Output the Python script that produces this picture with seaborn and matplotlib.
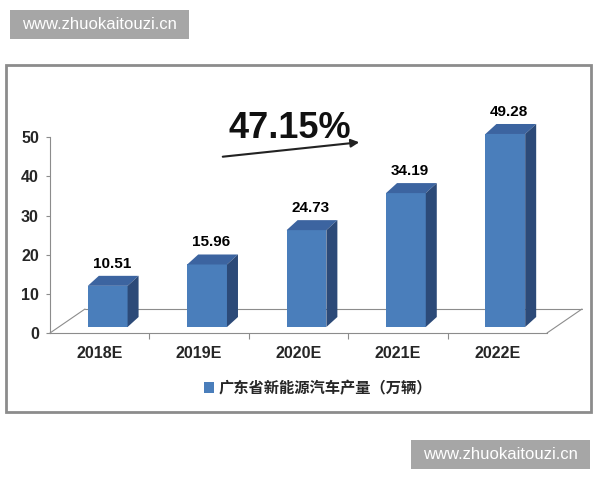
import numpy as np
import seaborn as sns
import matplotlib.pyplot as plt
from matplotlib.patches import Polygon, Rectangle
from matplotlib.transforms import ScaledTranslation

# data
years = ["2018E", "2019E", "2020E", "2021E", "2022E"]
output = [10.51, 15.96, 24.73, 34.19, 49.28]
yticks = [0, 10, 20, 30, 40, 50]
series_name = "广东省新能源汽车产量（万辆）"
cagr = "47.15%"
site = "www.zhuokaitouzi.cn"

front_col = "#4a7ebb"
top_col = "#3c64a0"
side_col = "#2c4a78"
line_col = "#8c8c8c"

sns.set_theme(style="white")
plt.rcParams['font.family'] = ['Liberation Sans', 'Noto Sans CJK SC', 'DejaVu Sans']
narrow = ['Liberation Sans Narrow', 'Liberation Sans']

W, H = 600, 480
fig = plt.figure(figsize=(6, 4.8), dpi=100)
fig.patch.set_facecolor("white")


def box(x0, y0, x1, y1):
    # pixel box, origin top-left -> figure fraction
    return [x0 / W, 1 - y1 / H, (x1 - x0) / W, (y1 - y0) / H]


# outer frame
fr = box(6, 65, 591, 412)
fig.add_artist(Rectangle(fr[:2], fr[2], fr[3], transform=fig.transFigure, fill=False, ec=line_col, lw=2))

ax = fig.add_axes(box(50, 98, 547, 333))
ax.patch.set_alpha(0)
sns.barplot(x=years, y=output, color=front_col, saturation=1, width=0.4, ax=ax)
ax.set_xlim(-0.5, 4.5)
ax.set_ylim(0, 60)

# pixel -> data scale
o = ax.transData.transform((0, 0))
sx = ax.transData.transform((1, 0))[0] - o[0]
sy = ax.transData.transform((0, 1))[1] - o[1]

# bars sit a little back on the floor
shift = ax.transData + ScaledTranslation(0.08, 0.06, fig.dpi_scale_trans)
ddx, ddy = 11 / sx, 10 / sy

for p, v in zip(ax.patches, output):
    x0, w, h = p.get_x(), p.get_width(), p.get_height()
    p.set_transform(shift)
    p.set_edgecolor("none")
    p.set_zorder(3)
    p.set_clip_on(False)
    top = Polygon([(x0, h), (x0 + w, h), (x0 + w + ddx, h + ddy), (x0 + ddx, h + ddy)],
                  closed=True, fc=top_col, ec="none", transform=shift, zorder=3, clip_on=False)
    side = Polygon([(x0 + w, 0), (x0 + w, h), (x0 + w + ddx, h + ddy), (x0 + w + ddx, ddy)],
                   closed=True, fc=side_col, ec="none", transform=shift, zorder=3, clip_on=False)
    ax.add_patch(top)
    ax.add_patch(side)
    ax.text(x0 + w / 2 + 4 / sx, h + ddy + 5 / sy, f"{v:.2f}", transform=shift,
            ha="center", va="bottom", fontsize=11, fontweight="bold", color="black", family=narrow)

# floor
back = ax.transData + ScaledTranslation(0.35, 0.24, fig.dpi_scale_trans)
ax.plot([-0.5, 4.5], [0, 0], color=line_col, lw=0.8, transform=back, clip_on=False, zorder=1)
for xe in (-0.5, 4.5):
    ax.plot([xe, xe + 35 / sx], [0, 24 / sy], color=line_col, lw=0.8, clip_on=False, zorder=1)

# axes
for s in ["top", "right"]:
    ax.spines[s].set_visible(False)
ax.spines["left"].set_bounds(0, 50)
ax.spines["left"].set_color(line_col)
ax.spines["left"].set_linewidth(0.8)
ax.spines["bottom"].set_color(line_col)
ax.spines["bottom"].set_linewidth(0.8)
ax.set_yticks(yticks)
ax.set_yticklabels([str(t) for t in yticks], fontsize=11.5, fontweight="bold", family=narrow)
ax.tick_params(axis="y", left=True, length=3, width=0.8, color=line_col, pad=5)
ax.set_xticks(range(len(years)))
ax.set_xticklabels(years, fontsize=11.5, fontweight="bold", family=narrow)
ax.set_xticks([i + 0.5 for i in range(len(years) - 1)], minor=True)
ax.tick_params(axis="x", which="major", length=0, pad=9)
ax.tick_params(axis="x", which="minor", bottom=True, length=4, width=0.8, color=line_col)
ax.set_xlabel("")
ax.set_ylabel("")

# growth annotation
fig.text(290 / W, 1 - 128 / H, cagr, ha="center", va="center", fontsize=26, fontweight="bold", color="#111111")
ax.annotate("", xy=(362 / W, 1 - 142 / H), xytext=(220 / W, 1 - 157 / H),
            xycoords="figure fraction", textcoords="figure fraction",
            arrowprops=dict(arrowstyle="-|>", lw=1.5, color="#222222", mutation_scale=12))

# legend
handle = Rectangle((0, 0), 1, 1, fc=front_col, ec="none")
fig.legend([handle], [series_name], loc="center", bbox_to_anchor=(318 / W, 1 - 388 / H),
           frameon=False, handlelength=0.7, handleheight=0.7, handletextpad=0.3,
           prop=dict(family=["Noto Sans CJK SC"], weight="bold", size=11))

# watermarks
for x0, y0, x1, y1 in [(10, 10, 189, 39), (411, 440, 590, 469)]:
    b = box(x0, y0, x1, y1)
    fig.add_artist(Rectangle(b[:2], b[2], b[3], transform=fig.transFigure, fc="#a6a6a6", ec="none"))
    fig.text((x0 + x1) / 2 / W, 1 - (y0 + y1) / 2 / H, site, ha="center", va="center",
             fontsize=12, color="white", family="Liberation Sans")

fig.savefig("out.png", dpi=100)
